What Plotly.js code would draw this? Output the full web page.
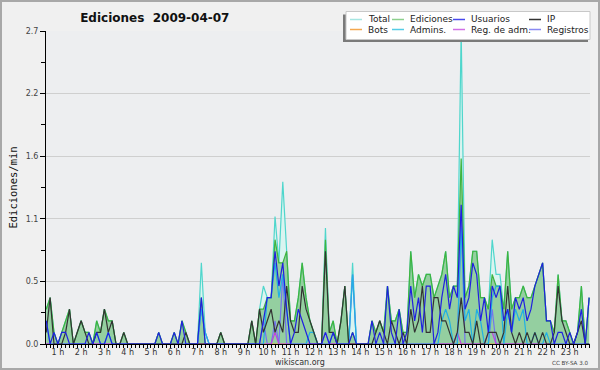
<!DOCTYPE html>
<html><head><meta charset="utf-8">
<script src="https://cdn.plot.ly/plotly-3.0.1.min.js"></script>
<style>html,body{margin:0;padding:0;background:#f0f0f0;}#chart{width:600px;height:370px;}</style>
</head><body><div id="chart"></div>
<script>
// 10-minute bins, values in edits per minute
const startHour = 0.5;
const binsPerHour = 6;

const total = [
0.3,0.4,0.1,0,0.1,0.2,0.3,0,0.1,0.2,
0.1,0.1,0,0.2,0.1,0.3,0.2,0.2,0,0,
0.1,0,0,0,0,0,0,0,0,0.1,
0,0,0,0.1,0,0.2,0.1,0,0,0,
0.7,0.1,0,0,0,0.1,0,0,0,0,
0,0,0,0.2,0,0.3,0.5,0.4,0.4,1.1,
0.7,1.4,0.8,0.2,0.2,0.4,0.7,0.4,0.2,0.1,
0,0,1.0,0.1,0.2,0,0.2,0.5,0,0.7,
0,0,0,0,0.2,0.1,0.2,0.1,0.5,0.2,
0.2,0.3,0.1,0.1,0.8,0.4,0.6,0.5,0.6,0.6,
0.4,0.5,0.6,0.8,0.4,0.5,0.5,2.7,0.4,0.5,
0.8,0.8,0.4,0.4,0.3,0.9,0.6,0.6,0.3,0.8,
0.3,0.4,0.4,0.5,0.4,0.4,0.5,0.6,0.7,0.2,
0.2,0.1,0.6,0.2,0.2,0.1,0,0.1,0.5,0,0.4];

const ediciones = [
0.3,0.4,0.1,0,0.1,0.2,0.3,0,0.1,0.2,
0.1,0.1,0,0.2,0.1,0.3,0.2,0.2,0,0,
0.1,0,0,0,0,0,0,0,0,0.1,
0,0,0,0.1,0,0.2,0.1,0,0,0,
0.4,0,0,0,0,0.1,0,0,0,0,
0,0,0,0.2,0,0.3,0.3,0.4,0.4,0.9,
0.7,0.7,0.8,0.2,0.2,0.4,0.7,0.4,0.2,0.1,
0,0,0.9,0.1,0.2,0,0.2,0.5,0,0.1,
0,0,0,0,0.2,0.1,0.2,0.1,0.5,0.2,
0.2,0.3,0.1,0.1,0.8,0.4,0.6,0.5,0.6,0.6,
0.4,0.5,0.6,0.8,0.4,0.5,0.5,1.6,0.4,0.5,
0.8,0.8,0.4,0.4,0.3,0.6,0.5,0.5,0.3,0.8,
0.3,0.4,0.4,0.5,0.4,0.4,0.5,0.6,0.7,0.2,
0.2,0.1,0.6,0.2,0.2,0.1,0,0.1,0.5,0,0.4];

const usuarios = [
0.2,0,0.1,0,0.1,0.1,0,0,0,0,
0,0.1,0,0.1,0,0,0.1,0,0,0,
0,0,0,0,0,0,0,0,0,0.1,
0,0,0,0.1,0,0.2,0,0,0,0,
0.4,0,0,0,0,0,0,0,0,0,
0,0,0,0,0,0,0.2,0.4,0.4,0.8,
0.5,0.7,0.3,0,0.1,0.3,0.2,0.1,0,0,
0,0,0.1,0,0.1,0,0,0,0,0.1,
0,0,0,0,0.2,0,0.1,0,0.5,0.1,
0,0.3,0,0.1,0.5,0.2,0.4,0.1,0.5,0.5,
0,0.1,0.4,0.6,0.3,0.5,0.4,1.2,0.3,0.4,
0.7,0.6,0.2,0.4,0.1,0.5,0.4,0.5,0.2,0.3,
0.1,0.4,0.3,0.4,0.2,0.3,0.5,0.6,0.7,0.2,
0.2,0,0.1,0.1,0,0.1,0,0.1,0.3,0,0.4];

const ip = [
0.1,0.4,0,0,0,0.1,0.3,0,0.1,0.2,
0.1,0,0,0.1,0.1,0.3,0.1,0.2,0,0,
0.1,0,0,0,0,0,0,0,0,0,
0,0,0,0,0,0,0.1,0,0,0,
0,0,0,0,0,0.1,0,0,0,0,
0,0,0,0.2,0,0.3,0.1,0.2,0.3,0.1,
0.2,0.1,0.5,0.2,0.1,0.1,0.5,0.3,0.2,0.1,
0,0,0.8,0.1,0.1,0,0.2,0.5,0,0,
0,0,0,0,0,0.1,0.2,0.1,0,0.2,
0.1,0,0.1,0,0.3,0.1,0.2,0.5,0.1,0.1,
0.4,0.4,0.2,0.2,0.1,0,0.1,0.4,0.1,0.1,
0,0.2,0,0,0.1,0.1,0.1,0,0.1,0.5,
0.1,0,0.1,0,0.1,0,0.1,0,0.1,0,
0,0.1,0.5,0.2,0.1,0,0,0.1,0.2,0,0];

const bots = [
0,0,0,0,0,0,0,0,0,0, 0,0,0,0,0,0,0,0,0,0,
0,0,0,0,0,0,0,0,0,0, 0,0,0,0,0,0,0,0,0,0,
0,0,0,0,0,0,0,0,0,0, 0,0,0,0,0,0,0,0,0,0,
0,0,0,0,0,0,0,0,0,0, 0,0,0,0,0,0,0,0,0,0,
0,0,0,0,0,0,0,0,0,0, 0,0,0,0,0,0,0,0,0,0,
0,0,0,0,0,0,0,0,0,0, 0,0,0,0,0,0,0,0,0,0,
0,0,0,0,0,0,0,0,0,0, 0,0,0,0,0,0,0,0,0,0,0];

const admins = [
0.2,0,0,0,0,0,0,0,0,0,
0,0,0,0.1,0,0,0.1,0,0,0,
0,0,0,0,0,0,0,0,0,0,
0,0,0,0,0,0,0,0,0,0,
0.3,0.1,0,0,0,0,0,0,0,0,
0,0,0,0,0,0,0,0.4,0.4,0.7,
0.4,0.6,0.3,0,0,0,0,0,0.1,0.1,
0,0,0,0,0.1,0,0,0,0,0.6,
0,0,0,0,0,0,0,0,0,0,
0,0,0,0,0,0,0,0,0,0,
0,0,0.2,0.3,0.2,0,0,1.0,0.2,0.3,
0,0.3,0.2,0,0,0.4,0.5,0.5,0,0.3,
0.1,0.3,0.2,0.3,0,0,0.1,0,0,0.1,
0,0,0,0,0,0,0,0,0,0,0];

const regAdm = [
0,0,0,0,0,0,0,0,0,0, 0,0,0,0,0,0,0,0,0,0,
0,0,0,0,0,0,0,0,0,0, 0,0,0,0,0,0,0,0,0,0,
0,0,0,0,0,0,0,0,0,0, 0,0,0,0,0,0,0,0,0,0.1,
0,0,0,0,0,0,0,0,0,0, 0,0,0,0,0,0,0,0,0,0,
0,0,0,0,0,0,0,0,0,0, 0,0,0,0,0,0,0,0,0,0,
0,0,0,0,0,0,0.1,0,0,0, 0,0,0,0,0.1,0.1,0,0,0,0,
0,0,0,0,0,0,0,0,0,0, 0,0,0,0,0,0,0,0,0,0,0];

const registros = [
0,0,0,0,0,0,0,0,0,0, 0,0,0,0,0,0,0,0,0,0,
0,0,0,0,0,0,0,0,0,0, 0,0,0,0,0,0,0,0,0,0,
0.3,0.1,0,0,0,0,0,0,0,0, 0,0,0,0,0,0,0.2,0,0,0.2,
0,0.6,0,0,0,0,0,0,0,0, 0,0,0.1,0,0,0,0,0,0,0.6,
0,0,0,0,0,0,0,0,0,0, 0,0,0,0,0,0,0,0,0,0,
0,0,0,0,0,0,0,1.1,0,0, 0,0,0,0,0,0.3,0,0,0,0,
0,0,0,0,0,0,0,0,0,0, 0,0,0,0,0,0,0,0,0,0,0];

const hourTicks = [1,2,3,4,5,6,7,8,9,10,11,12,13,14,15,16,17,18,19,20,21,22,23];
const hourLabels = ['1 h','2 h','3 h','4 h','5 h','6 h','7 h','8 h','9 h','10 h','11 h','12 h','13 h','14 h','15 h','16 h','17 h','18 h','19 h','20 h','21 h','22 h','23 h'];
const yTickVals = [0,0.54,1.08,1.62,2.16,2.7];
const yTickText = ['0.0','0.5','1.1','1.6','2.2','2.7'];

const seriesNames = ['Total','Ediciones','Usuarios','IP','Bots','Admins.','Reg. de adm.','Registros'];
const seriesColors = ['#4fd6cc','#3fb43f','#2020e0','#333333','#f0a040','#20b0e4','#c040e0','#7474ee'];
const swatchColors = ['#a6e6e2','#8ed08e','#4848ee','#333333','#f4a850','#56cce6','#d070e6','#8a8af2'];

const x = total.map((_, i) => startHour + i / binsPerHour);
const FONT = 'DejaVu Sans, sans-serif';

function line(name, y, color, extra) {
  return Object.assign({type:'scatter', mode:'lines', name, x, y,
    line:{color, width:1.2}, hoverinfo:'skip', showlegend:false}, extra||{});
}
const data = [
  line('Total', total, seriesColors[0], {fill:'tozeroy', fillcolor:'rgba(214,244,240,0.85)'}),
  line('Ediciones', ediciones, seriesColors[1], {fill:'tozeroy', fillcolor:'rgba(70,165,70,0.47)'}),
  line('Bots', bots, seriesColors[4]),
  line('Registros', registros, seriesColors[7]),
  line('Reg. de adm.', regAdm, seriesColors[6]),
  line('Admins.', admins, seriesColors[5]),
  line('IP', ip, seriesColors[3]),
  line('Usuarios', usuarios, seriesColors[2])
];

// pixel -> paper helpers (plot area 46..590 x 31..344)
const L=46, R=590, T=31, B=344;
const px = v => (v - L) / (R - L);
const py = v => (B - v) / (B - T);

const shapes = [
  {type:'rect', xref:'paper', yref:'paper', x0:px(1), x1:px(599), y0:py(369), y1:py(1), line:{color:'#a8a8a8', width:2}, layer:'above'},
  {type:'rect', xref:'paper', yref:'paper', x0:px(343), x1:px(588), y0:py(42), y1:py(14.5), fillcolor:'#7a7a7a', line:{width:0}, layer:'above'},
  {type:'rect', xref:'paper', yref:'paper', x0:px(346), x1:px(590), y0:py(39.5), y1:py(11.5), fillcolor:'#ffffff', line:{color:'#c8c8c8', width:1}, layer:'above'}
];
const annotations = [
  {xref:'paper', yref:'paper', x:px(300), y:py(362), text:'wikiscan.org', showarrow:false, xanchor:'center', yanchor:'middle', font:{family:FONT, size:8, color:'#333'}},
  {xref:'paper', yref:'paper', x:px(590), y:py(362.5), text:'CC BY-SA 3.0', showarrow:false, xanchor:'right', yanchor:'middle', font:{family:FONT, size:5.6, color:'#444'}}
];
const colSw = [350, 392, 453, 529];
const colTx = [366, 408, 469, 545];
const rowY = [19.5, 29.5];
seriesNames.forEach((nm, k) => {
  const c = k % 4, r = Math.floor(k / 4);
  shapes.push({type:'line', xref:'paper', yref:'paper', x0:px(colSw[c]), x1:px(colSw[c]+12), y0:py(rowY[r]), y1:py(rowY[r]), line:{color:swatchColors[k], width:1.5}, layer:'above'});
  annotations.push({xref:'paper', yref:'paper', x:px(colTx[c]), y:py(rowY[r]), text:nm, showarrow:false, xanchor:'left', yanchor:'middle', font:{family:FONT, size:9, color:'#222'}});
});

const layout = {
  width:600, height:370,
  margin:{l:L, r:600-R, t:T, b:370-B, pad:0},
  paper_bgcolor:'#f0f0f0', plot_bgcolor:'#edeef0',
  showlegend:false,
  title:{text:'Ediciones\u00a0 2009-04-07', xref:'container', yref:'container', x:0.258, y:0.953, xanchor:'center', yanchor:'middle',
    font:{family:FONT, size:12, color:'#111', weight:'bold'}},
  xaxis:{range:[0.49, 23.87], tickvals:hourTicks, ticktext:hourLabels, ticks:'outside', ticklen:3, tickwidth:1, tickcolor:'#000',
    showline:true, linecolor:'#000', linewidth:1, showgrid:false, zeroline:false, ticklabelstandoff:-3,
    tickfont:{family:FONT, size:8, color:'#333'},
    minor:{dtick:1/6, tick0:0, ticks:'outside', ticklen:3, tickcolor:'#000', showgrid:false}},
  yaxis:{range:[0, 2.7], tickvals:yTickVals, ticktext:yTickText, ticks:'outside', ticklen:5, tickcolor:'#000',
    showline:true, linecolor:'#000', linewidth:1, showgrid:true, gridcolor:'#cfcfcf', gridwidth:1, zeroline:false,
    tickfont:{family:FONT, size:8, color:'#444'},
    minor:{tickvals:[0.27,0.81,1.35,1.89,2.43], ticks:'outside', ticklen:4, tickcolor:'#000', showgrid:false},
    title:{text:'Ediciones/min', standoff:5, font:{family:'DejaVu Sans Mono, monospace', size:10.5, color:'#111'}}},
  shapes, annotations
};
Plotly.newPlot('chart', data, layout, {staticPlot:true, displayModeBar:false});
</script></body></html>
